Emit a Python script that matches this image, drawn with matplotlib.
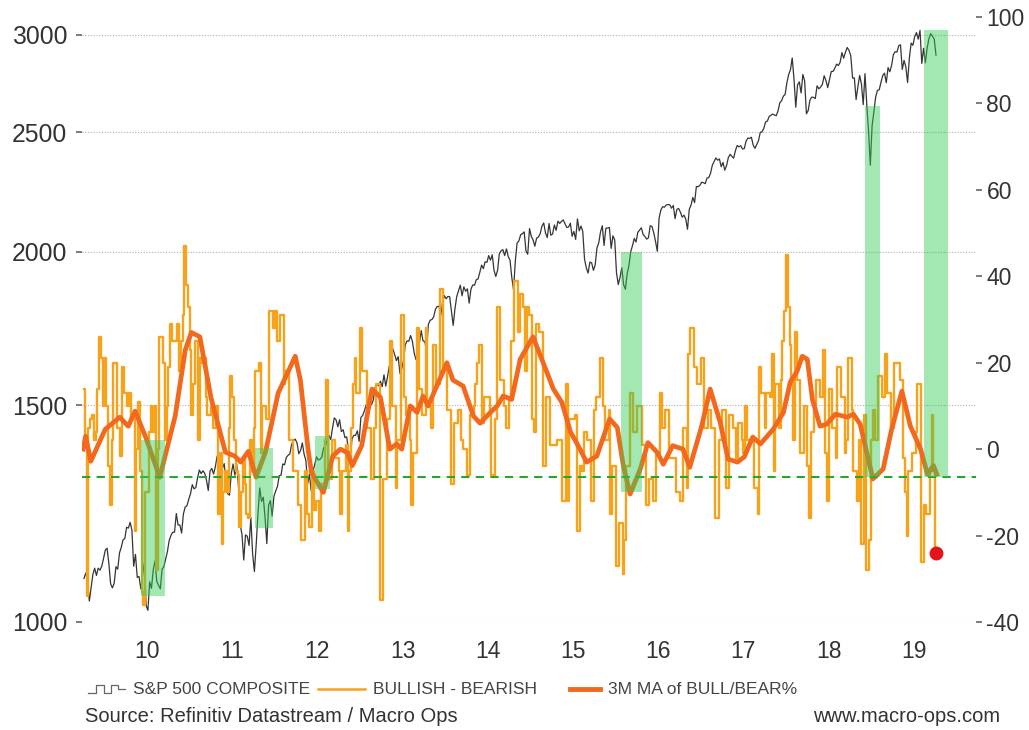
import numpy as np
import matplotlib.pyplot as plt
from matplotlib.lines import Line2D
from matplotlib.ticker import FixedLocator, NullLocator

plt.rcParams['font.family'] = ['Liberation Sans', 'DejaVu Sans']
plt.rcParams['axes.unicode_minus'] = False

# S&P 500, four readings a month, Oct 2009 -> Oct 2019
spx = [
    1085, 1096, 1080, 1040, 1066, 1093, 1106, 1091, 1106, 1102, 1110, 1126,  # 2009 Q4
    # 2010
    1144, 1148, 1116, 1074, 1066, 1075, 1109, 1104, 1138, 1150, 1166, 1169,
    1194, 1192, 1205, 1187, 1110, 1135, 1087, 1089, 1064, 1092, 1117, 1031,
    1022, 1078, 1065, 1102, 1121, 1079, 1071, 1064, 1104, 1109, 1125, 1141,
    1165, 1176, 1183, 1183, 1225, 1199, 1199, 1181, 1224, 1240, 1243, 1258,
    # 2011
    1271, 1293, 1283, 1286, 1310, 1329, 1320, 1327, 1321, 1304, 1279, 1326,
    1333, 1319, 1337, 1364, 1340, 1338, 1333, 1345, 1300, 1271, 1268, 1321,
    1344, 1316, 1345, 1292, 1200, 1178, 1123, 1177, 1174, 1154, 1216, 1136,
    1099, 1155, 1224, 1285, 1253, 1263, 1216, 1158, 1244, 1255, 1219, 1265,
    # 2012
    1278, 1289, 1315, 1316, 1344, 1342, 1361, 1366, 1370, 1395, 1404, 1408,
    1398, 1370, 1378, 1398, 1369, 1353, 1295, 1318, 1278, 1325, 1343, 1362,
    1354, 1356, 1362, 1385, 1390, 1405, 1418, 1407, 1437, 1465, 1460, 1441,
    1460, 1428, 1433, 1412, 1414, 1380, 1359, 1409, 1418, 1418, 1430, 1402,
    # 2013
    1466, 1472, 1485, 1502, 1513, 1518, 1502, 1515, 1551, 1560, 1556, 1569,
    1553, 1588, 1555, 1582, 1614, 1633, 1667, 1650, 1631, 1643, 1592, 1606,
    1631, 1680, 1692, 1691, 1709, 1691, 1655, 1634, 1655, 1687, 1725, 1692,
    1690, 1660, 1745, 1759, 1761, 1770, 1795, 1805, 1805, 1775, 1818, 1842,
    # 2014
    1831, 1839, 1838, 1790, 1742, 1797, 1839, 1859, 1878, 1841, 1872, 1857,
    1865, 1816, 1864, 1879, 1878, 1897, 1900, 1924, 1950, 1937, 1962, 1960,
    1985, 1968, 1988, 1931, 1909, 1931, 1992, 2003, 2007, 1985, 2010, 1982,
    1968, 1906, 1862, 1965, 2032, 2040, 2064, 2068, 2075, 2002, 1990, 2088,
    # 2015
    2058, 2044, 2020, 2051, 2055, 2068, 2097, 2110, 2071, 2053, 2108, 2062,
    2067, 2102, 2081, 2117, 2108, 2116, 2122, 2107, 2092, 2094, 2109, 2058,
    2077, 2046, 2126, 2079, 2098, 2077, 1971, 1940, 1921, 1961, 1958, 1931,
    1951, 2014, 2033, 2075, 2099, 2023, 2089, 2090, 2092, 2012, 2060, 2044,
    # 2016
    1922, 1880, 1906, 1940, 1880, 1864, 1918, 1948, 1999, 2022, 2050, 2036,
    2073, 2082, 2091, 2065, 2057, 2047, 2052, 2099, 2096, 2071, 2038, 2001,
    2129, 2162, 2175, 2173, 2182, 2184, 2183, 2169, 2180, 2127, 2164, 2168,
    2153, 2133, 2141, 2126, 2085, 2164, 2182, 2213, 2192, 2259, 2258, 2264,
    # 2017
    2277, 2275, 2271, 2295, 2297, 2316, 2351, 2367, 2383, 2373, 2378, 2344,
    2363, 2329, 2349, 2384, 2399, 2390, 2382, 2416, 2439, 2433, 2438, 2423,
    2425, 2459, 2473, 2472, 2477, 2441, 2426, 2443, 2461, 2500, 2502, 2519,
    2549, 2553, 2575, 2581, 2587, 2582, 2579, 2602, 2642, 2652, 2675, 2683,
    # 2018
    2743, 2786, 2810, 2873, 2762, 2620, 2732, 2747, 2691, 2786, 2752, 2588,
    2604, 2656, 2670, 2669, 2663, 2727, 2712, 2721, 2735, 2779, 2754, 2718,
    2759, 2801, 2802, 2818, 2840, 2833, 2850, 2902, 2872, 2905, 2930, 2914,
    2885, 2767, 2768, 2658, 2723, 2781, 2736, 2633, 2790, 2633, 2507, 2351,
    # 2019
    2531, 2597, 2670, 2704, 2707, 2745, 2780, 2793, 2743, 2822, 2800, 2834,
    2892, 2907, 2905, 2939, 2945, 2812, 2860, 2826, 2744, 2873, 2954, 2942,
    2990, 3013, 2976, 3025, 2844, 2926, 2847, 2926, 2978, 3007, 2992, 2977,
    2888,
]

# AAII bullish minus bearish (%), same weekly grid
bull_bear = [
    14, 3, -34, 5, 7, 8, 2, 4, 14, 26, 21, 10,  # 2009 Q4
    # 2010
    21, 10, -4, -13, 2, 20, 20, 5, 5, -1.5, 19, 13,
    13, 10, 13, 7, 7, -19, 0, 11, -5, -33, -36, -10,
    -10, 4, 10, 4, 10, -28, 0, 26, 26, 20, 2, 10,
    19, 29, 25, 25, 25, 29, 18, 25, 31, 47, 38, 33,
    # 2011
    23, 8, 15, 25, 25, 2, 21, 20, 21, 12, 8, 8,
    10, 5, 5, 10, -15, -1, -22, -10, -5, -10, 5, 17,
    12, 2, -5, -6, -18, -10, -2, -8, -15, -16, 2, -5,
    5, 18, 18, 20, -1, 10, 10, 7, 7, 32, 32, 28,
    # 2012
    32, 25, 25, 31, 31, 15, 18, 18, 2, 2, -5, -5,
    -5, -13, -13, -21, -21, -5, -15, -18, -18, -5, -14, -12,
    -12, -19, -8, -8, 2, 16, -7, -7, 2, 2, -2, -2,
    -5, -15, -5, -5, 1, -19, -5, 5, 15, 21, 13, 13,
    # 2013
    28, 18, 18, 18, 5, 5, -7, -7, 5, 15, 15, -35,
    -35, -7, -7, 7, 7, 25, 10, 10, -9, 2, 2, 31,
    31, 12, 8, 8, 2, -13, -1, -1, 28, 14, 14, 8,
    8, 28, 10, 10, 5, 24, 24, 15, 15, 37, 37, 19,
    # 2014
    19, 9, 9, -8, -8, 6, 6, 9, 9, 2, 0, 0,
    -6, -6, 8, 8, 10, 15, 20, 24, 24, 6, 12, 12,
    12, 9, -6, -6, 7, 33, 33, 16, 16, 10, 5, 5,
    12, 25, 25, 39, 39, 27, 36, 36, 33, 18, 33, 31,
    # 2015
    31, 7, 4, 29, 29, 27, 27, -4, -4, 12, 12, 1,
    1, 1, 1, 2, 2, 2, -12, -12, 15, -12, 7, 7,
    7, 8, -19, -19, -4, -5, 4, 4, 2, 2, -12, -12,
    9, 12, 12, 21, 21, 10, 2, 2, 9, -15, -4, -4,
    # 2016
    -27, -27, -17, -17, -29, -21, -4, -4, 13, 13, 4, 4,
    10, 10, 10, 1, 1, -13, -13, -7, -7, -12, -12, -1,
    -1, 13, 5, 5, 9, 9, -2, -2, -2, -2, -10, -10,
    -12, -12, 5, 5, -9, 22, 28, 28, 19, 19, 15, 15,
    # 2017
    21, 21, 5, 5, 9, 9, 5, 5, -16, -16, 2, 2,
    9, 9, -9, -9, 8, 8, 5, 5, -2, 6, 6, 2,
    -1, 10, 2, 2, 2, 2, -9, -9, -15, 19, 13, 13,
    5, 13, 13, 12, 22, -5, 15, 15, 5, 16, 25, 32,
    # 2018
    45, 33, 24, 16, 2, 27, 16, 16, -1, -1, 10, 10,
    -4, -16, 4, 4, 9, 16, 16, 12, 12, 23, -1, -12,
    14, 14, 5, 5, -2, 19, 19, 12, 12, -1, 2, 21,
    21, 9, -5, -5, -12, 2, -22, -22, 8, -28, -28, -21,
    # 2019
    2, 9, 2, 2, 17, 17, 12, 12, 22, 13, 13, 5,
    5, 20, 20, 20, 16, 16, -2, -10, -20, -5, -5, -1,
    -1, 4, 15, 15, -26, -26, -13, -15, -15, -5, 8, -5,
    -24,
]

# 3-month moving average (decimal year, %)
ma_t = [2009.75, 2009.78, 2009.84, 2010.01, 2010.18, 2010.28, 2010.36, 2010.48,
        2010.65, 2010.83, 2010.95, 2011.02, 2011.12, 2011.25, 2011.42, 2011.53,
        2011.60, 2011.69, 2011.78, 2011.89, 2012.04, 2012.24, 2012.30, 2012.39,
        2012.43, 2012.57, 2012.68, 2012.77, 2012.85, 2012.91, 2013.02, 2013.14,
        2013.24, 2013.35, 2013.43, 2013.49, 2013.59, 2013.67, 2013.74, 2013.80,
        2014.02, 2014.09, 2014.21, 2014.33, 2014.41, 2014.53, 2014.61, 2014.68,
        2014.78, 2014.88, 2015.03, 2015.15, 2015.27, 2015.37, 2015.47, 2015.56,
        2015.66, 2015.78, 2015.93, 2016.02, 2016.09, 2016.17, 2016.29, 2016.38,
        2016.49, 2016.56, 2016.67, 2016.79, 2016.87, 2017.01, 2017.11, 2017.23,
        2017.32, 2017.43, 2017.51, 2017.61, 2017.70, 2017.85, 2017.97, 2018.05,
        2018.13, 2018.19, 2018.25, 2018.31, 2018.40, 2018.48, 2018.58, 2018.72,
        2018.79, 2018.87, 2019.02, 2019.14, 2019.24, 2019.36, 2019.46, 2019.58,
        2019.66, 2019.73, 2019.77]
ma_v = [0, 3, -2.8, 4.6, 7.4, 5.3, 8.8, 3,
        -6.5, 7.6, 23, 27, 26, 12, -0.7, -1.6,
        -3, -0.5, -6.5, -0.7, 13, 21.5, 16, 0,
        -5.4, -10, -1.6, 0, -0.8, -3.8, 0.8, 13.9,
        12, 0, 1.2, 0, 10, 8.5, 12.3, 10,
        20, 16, 14.6, 7.7, 6, 8.5, 10, 12.3,
        11.5, 20.8, 26, 20, 13.9, 10.8, 4, 0.8,
        -3, -1.6, 7, 5, -3.8, -10.4, -4.6, 1.5,
        -0.8, -3.5, 0.8, 0, -4.2, 5.3, 13.9, 6,
        -2.3, -3, -1.8, 2.8, 1.2, 4.6, 8.5, 15.5,
        18, 21.5, 20.8, 11.5, 5.3, 5.8, 8.1, 7.4,
        8.1, 5.8, -6.9, -4.6, 4.6, 13.4, 5.3, 0,
        -5.8, -3.8, -5.8]

# highlighted buy zones (decimal year, right-axis %)
zone_start = [2010.43, 2011.77, 2012.47, 2016.06, 2018.93, 2019.62]
zone_end = [2010.71, 2011.98, 2012.65, 2016.31, 2019.10, 2019.90]
zone_low = [-34, -18.2, -9.2, -10, -6.5, -6.5]
zone_high = [2.1, 0.2, 3, 45.7, 79.5, 97]
signal_level = -6.5

year_pos = [2010.5 + i for i in range(10)]
year_labels = ['10', '11', '12', '13', '14', '15', '16', '17', '18', '19']
left_ticks = [1000, 1500, 2000, 2500, 3000]
right_ticks = [-40, -20, 0, 20, 40, 60, 80, 100]

t = 2009.75 + (np.arange(len(spx)) + 0.5) / 48

fig = plt.figure(figsize=(10.29, 7.30), dpi=100)
ax = fig.add_axes([82 / 1029, 108 / 730, 894 / 1029, 605 / 730])

ax.set_yscale('log')
ax.plot(t, spx, color='#353535', lw=0.9, zorder=2)
ax.set_ylim(1000, 3102)
ax.yaxis.set_major_locator(FixedLocator(left_ticks))
ax.yaxis.set_minor_locator(NullLocator())
ax.set_yticklabels([str(v) for v in left_ticks])
ax.set_xlim(2009.737, 2020.23)
ax.set_xticks(year_pos, year_labels)
ax.tick_params(axis='x', length=0, pad=13, labelsize=16.5, labelcolor='#333333')
ax.tick_params(axis='y', length=4.5, width=1.2, color='#666666', labelsize=17.8,
               labelcolor='#333333', pad=6)
ax.grid(axis='y', linestyle=(0, (1, 1.5)), color='#b0b0b0', lw=0.8)
for s in ax.spines.values():
    s.set_visible(False)

ax2 = ax.twinx()
ax2.set_ylim(-40, 100)
ax2.set_yticks(right_ticks)
ax2.tick_params(axis='y', length=4.5, width=1.2, color='#666666', labelsize=16.5,
                labelcolor='#333333', pad=3)
for s in ax2.spines.values():
    s.set_visible(False)

ax2.plot(t, bull_bear, drawstyle='steps-mid', color='#f7a21b', lw=1.7, zorder=2)
ax2.plot(ma_t, ma_v, color='#f2691e', lw=3.4, zorder=3)
ax2.axhline(signal_level, color='#2aa52a', lw=1.5, ls=(0, (4, 3)), zorder=4)
for x0, x1, lo, hi in zip(zone_start, zone_end, zone_low, zone_high):
    ax2.fill_between([x0, x1], lo, hi, color='#33cc55', alpha=0.45, lw=0, zorder=5)
ax2.plot(t[-1], bull_bear[-1], 'o', color='#e3141c', ms=9, zorder=6)


# legend row, laid out by hand in figure pixels
def fx(px):
    return px / 1029


def fy(py):
    return 1 - py / 730


leg_y = 689
fig.add_artist(Line2D([fx(p) for p in (88, 96, 96, 104, 104, 111, 111, 118, 118, 125)],
                      [fy(p) for p in (leg_y + 4, leg_y + 4, leg_y - 4, leg_y - 4, leg_y + 4,
                                       leg_y + 4, leg_y - 4, leg_y - 4, leg_y, leg_y)],
                      transform=fig.transFigure, color='#666666', lw=0.9))
fig.add_artist(Line2D([fx(318), fx(365)], [fy(leg_y), fy(leg_y)],
                      transform=fig.transFigure, color='#f7a21b', lw=1.8))
fig.add_artist(Line2D([fx(570), fx(600)], [fy(leg_y), fy(leg_y)],
                      transform=fig.transFigure, color='#f2691e', lw=3.5))
leg_labels = ['S&P 500 COMPOSITE', 'BULLISH - BEARISH', '3M MA of BULL/BEAR%']
leg_text_x = [133, 373, 608]
for lab, px in zip(leg_labels, leg_text_x):
    fig.text(fx(px), fy(leg_y), lab, fontsize=12.5, color='#444444', va='center')

fig.text(fx(85), fy(717), 'Source: Refinitiv Datastream / Macro Ops',
         fontsize=14.5, color='#333333', va='center')
fig.text(fx(1000), fy(717), 'www.macro-ops.com',
         fontsize=14.5, color='#333333', va='center', ha='right')

fig.savefig('out.png', dpi=100)
